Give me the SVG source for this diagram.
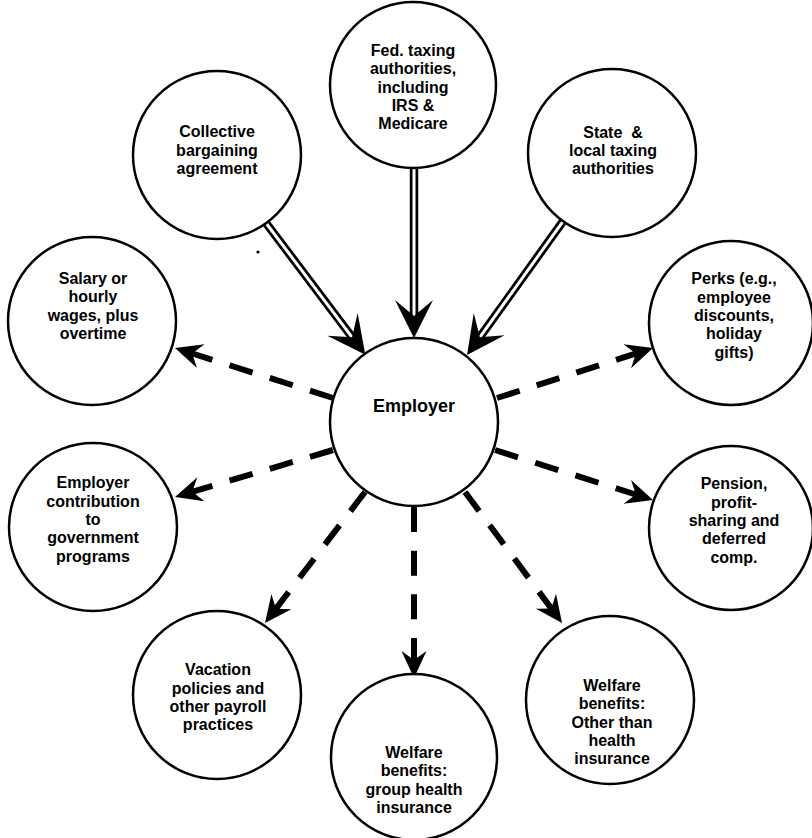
<svg xmlns="http://www.w3.org/2000/svg" width="812" height="838" viewBox="0 0 812 838">
  <style>
    .node { fill: #fff; stroke: #000; stroke-width: 2.5; }
    .label { font-family: "Liberation Sans", Arial, sans-serif; font-weight: bold; font-size: 16px; fill: #000; text-anchor: middle; white-space: pre; }
    .hub { font-size: 18px; }
    .dbl-outer { stroke: #000; stroke-width: 8.5; fill: none; }
    .dbl-inner { stroke: #fff; stroke-width: 3; fill: none; }
    .dash { stroke: #000; stroke-width: 6; fill: none; stroke-dasharray: 24 18; }
  </style>
  <defs>
    <!-- large barbed head for the double-line inputs -->
    <marker id="headBig" markerUnits="userSpaceOnUse" markerWidth="40" markerHeight="40" viewBox="0 -20 40 40" refX="18" refY="0" orient="auto" overflow="visible">
      <path d="M0,-19 L38,0 L0,19 L16,0 Z" fill="#000"/>
    </marker>
    <!-- smaller barbed head for the dashed outputs -->
    <marker id="headSmall" markerUnits="userSpaceOnUse" markerWidth="30" markerHeight="30" viewBox="0 -15 30 30" refX="12" refY="0" orient="auto" overflow="visible">
      <path d="M0,-12.5 L27,0 L0,12.5 L9,0 Z" fill="#000"/>
    </marker>
  </defs>

  <rect width="812" height="838" fill="#fff"/>

  <g id="connectors">
    <!-- inputs: double lines into the employer -->
    <g id="in-collective">
      <line class="dbl-outer" x1="266" y1="223" x2="353.3" y2="338.8"/>
      <line class="dbl-inner" x1="266" y1="223" x2="353.3" y2="338.8" marker-end="url(#headBig)"/>
    </g>
    <g id="in-federal">
      <line class="dbl-outer" x1="414" y1="167" x2="414" y2="318"/>
      <line class="dbl-inner" x1="414" y1="167" x2="414" y2="318" marker-end="url(#headBig)"/>
    </g>
    <g id="in-state">
      <line class="dbl-outer" x1="563" y1="221.3" x2="478.7" y2="338.8"/>
      <line class="dbl-inner" x1="563" y1="221.3" x2="478.7" y2="338.8" marker-end="url(#headBig)"/>
    </g>
    <!-- outputs: dashed lines from the employer (four dashes each, normalised length) -->
    <line id="out-salary" class="dash" pathLength="150" x1="333" y1="398" x2="189.3" y2="352.5" marker-end="url(#headSmall)"/>
    <line id="out-contribution" class="dash" pathLength="150" x1="333" y1="450" x2="189.4" y2="492.7" marker-end="url(#headSmall)"/>
    <line id="out-perks" class="dash" pathLength="150" x1="497" y1="398" x2="638.7" y2="352.6" marker-end="url(#headSmall)"/>
    <line id="out-pension" class="dash" pathLength="150" x1="495" y1="450" x2="638.7" y2="495.5" marker-end="url(#headSmall)"/>
    <line id="out-vacation" class="dash" pathLength="150" x1="365" y1="492" x2="274.1" y2="611.1" marker-end="url(#headSmall)"/>
    <line id="out-health" class="dash" pathLength="150" x1="414" y1="507" x2="414" y2="663" marker-end="url(#headSmall)"/>
    <line id="out-welfare" class="dash" pathLength="150" x1="465" y1="492" x2="553.1" y2="610.9" marker-end="url(#headSmall)"/>
  </g>

  <g id="employer">
    <circle class="node" cx="414" cy="422" r="84"/>
    <text class="label hub" x="414" y="412">Employer</text>
  </g>

  <g id="federal">
    <circle class="node" cx="413" cy="85" r="83"/>
    <text class="label" x="413" y="56">Fed. taxing</text>
    <text class="label" x="413" y="74">authorities,</text>
    <text class="label" x="413" y="93">including</text>
    <text class="label" x="413" y="111">IRS &amp;</text>
    <text class="label" x="413" y="129">Medicare</text>
  </g>

  <g id="collective">
    <circle class="node" cx="217" cy="155" r="84"/>
    <text class="label" x="217" y="137">Collective</text>
    <text class="label" x="217" y="155.5">bargaining</text>
    <text class="label" x="217" y="174">agreement</text>
  </g>

  <g id="state">
    <circle class="node" cx="612" cy="153" r="84"/>
    <text class="label" x="613" y="138">State  &amp;</text>
    <text class="label" x="613" y="156">local taxing</text>
    <text class="label" x="613" y="174">authorities</text>
  </g>

  <g id="salary">
    <circle class="node" cx="92" cy="321" r="84"/>
    <text class="label" x="93" y="284">Salary or</text>
    <text class="label" x="93" y="302">hourly</text>
    <text class="label" x="93" y="321">wages, plus</text>
    <text class="label" x="93" y="339">overtime</text>
  </g>

  <g id="perks">
    <circle class="node" cx="731" cy="323" r="82"/>
    <text class="label" x="734" y="284">Perks (e.g.,</text>
    <text class="label" x="734" y="303">employee</text>
    <text class="label" x="734" y="321">discounts,</text>
    <text class="label" x="734" y="339">holiday</text>
    <text class="label" x="734" y="358">gifts)</text>
  </g>

  <g id="contribution">
    <circle class="node" cx="93" cy="527" r="84"/>
    <text class="label" x="93" y="488">Employer</text>
    <text class="label" x="93" y="507">contribution</text>
    <text class="label" x="93" y="525">to</text>
    <text class="label" x="93" y="543">government</text>
    <text class="label" x="93" y="562">programs</text>
  </g>

  <g id="pension">
    <circle class="node" cx="731" cy="528" r="82"/>
    <text class="label" x="734" y="489">Pension,</text>
    <text class="label" x="734" y="508">profit-</text>
    <text class="label" x="734" y="526">sharing and</text>
    <text class="label" x="734" y="544">deferred</text>
    <text class="label" x="734" y="563">comp.</text>
  </g>

  <g id="vacation">
    <circle class="node" cx="217" cy="695" r="84"/>
    <text class="label" x="218" y="675">Vacation</text>
    <text class="label" x="218" y="694">policies and</text>
    <text class="label" x="218" y="712">other payroll</text>
    <text class="label" x="218" y="730">practices</text>
  </g>

  <g id="health">
    <circle class="node" cx="414" cy="757" r="83"/>
    <text class="label" x="414" y="758">Welfare</text>
    <text class="label" x="414" y="776">benefits:</text>
    <text class="label" x="414" y="795">group health</text>
    <text class="label" x="414" y="813">insurance</text>
  </g>

  <g id="welfare">
    <circle class="node" cx="610" cy="700" r="84"/>
    <text class="label" x="612" y="691">Welfare</text>
    <text class="label" x="612" y="709">benefits:</text>
    <text class="label" x="612" y="728">Other than</text>
    <text class="label" x="612" y="746">health</text>
    <text class="label" x="612" y="764">insurance</text>
  </g>

  <circle cx="258" cy="252" r="1.6" fill="#000"/>
</svg>
